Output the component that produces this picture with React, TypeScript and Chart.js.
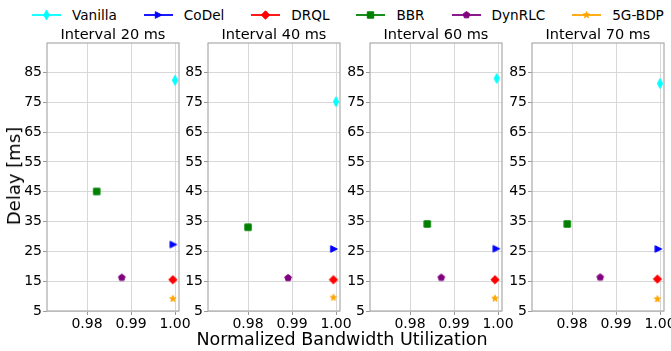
import React, { useEffect, useRef } from 'react';
import { Chart, registerables } from 'chart.js';

Chart.register(...registerables);

// ---------------- data ----------------
const intervalTitles = ['Interval 20 ms', 'Interval 40 ms', 'Interval 60 ms', 'Interval 70 ms'];
const methodNames = ['Vanilla', 'CoDel', 'DRQL', 'BBR', 'DynRLC', '5G-BDP'];
const methodColors = ['#00ffff', '#0000ff', '#ff0000', '#008000', '#800080', '#ffa500'];
const methodMarkers = ['thinDiamond', 'triRight', 'diamond', 'square', 'pentagon', 'star'];

const vanillaUtil = [1.0, 1.0, 0.9997, 1.0];
const vanillaDelay = [82.4, 75.2, 83.0, 81.3];
const codelUtil = [0.9996, 0.9995, 0.9996, 0.9996];
const codelDelay = [27.3, 25.8, 25.9, 25.8];
const drqlUtil = [0.9995, 0.9994, 0.9993, 0.9994];
const drqlDelay = [15.5, 15.5, 15.5, 15.7];
const bbrUtil = [0.9822, 0.98, 0.9839, 0.9789];
const bbrDelay = [45.1, 33.1, 34.2, 34.2];
const dynrlcUtil = [0.9879, 0.9891, 0.9871, 0.9864];
const dynrlcDelay = [16.2, 16.1, 16.2, 16.3];
const bdpUtil = [0.9995, 0.9994, 0.9993, 0.9994];
const bdpDelay = [9.1, 9.5, 9.2, 9.0];

const utilSeries = [vanillaUtil, codelUtil, drqlUtil, bbrUtil, dynrlcUtil, bdpUtil];
const delaySeries = [vanillaDelay, codelDelay, drqlDelay, bbrDelay, dynrlcDelay, bdpDelay];

const xTicks = [0.98, 0.99, 1.0];
const yTicks = [5, 15, 25, 35, 45, 55, 65, 75, 85];
const xMin = 0.9709;
const xMax = 1.0009;
const yMin = 5;
const yMax = 94.9;

// ---------------- layout ----------------
const FONT = "'DejaVu Sans', sans-serif";
const panelLefts = [47, 208, 370, 532];
const AXIS_W = 45;
const PLOT_W = 132;
const PAD_R = 18;
const CANVAS_W = AXIS_W + PLOT_W + PAD_R;
const CANVAS_H = 351;
const PLOT_TOP = 43;
const X_AXIS_H = 25;
const PAD_B = 15;

Chart.defaults.font.family = FONT;

function traceMarker(ctx: CanvasRenderingContext2D, shape: string, cx: number, cy: number) {
  ctx.beginPath();
  if (shape === 'thinDiamond') {
    ctx.moveTo(cx, cy - 5);
    ctx.lineTo(cx + 2.6, cy);
    ctx.lineTo(cx, cy + 5);
    ctx.lineTo(cx - 2.6, cy);
  } else if (shape === 'triRight') {
    ctx.moveTo(cx + 3.4, cy);
    ctx.lineTo(cx - 3.2, cy - 3.3);
    ctx.lineTo(cx - 3.2, cy + 3.3);
  } else if (shape === 'diamond') {
    const r = 4.2;
    ctx.moveTo(cx, cy - r);
    ctx.lineTo(cx + r, cy);
    ctx.lineTo(cx, cy + r);
    ctx.lineTo(cx - r, cy);
  } else if (shape === 'square') {
    ctx.rect(cx - 3.2, cy - 3.2, 6.4, 6.4);
  } else if (shape === 'pentagon') {
    const r = 3.5;
    for (let k = 0; k < 5; k++) {
      const a = -Math.PI / 2 + (k * 2 * Math.PI) / 5;
      const px = cx + r * Math.cos(a);
      const py = cy + r * Math.sin(a);
      if (k === 0) ctx.moveTo(px, py);
      else ctx.lineTo(px, py);
    }
  } else if (shape === 'star') {
    const ro = 3.4;
    const ri = 1.4;
    for (let k = 0; k < 10; k++) {
      const a = -Math.PI / 2 + (k * Math.PI) / 5;
      const r = k % 2 === 0 ? ro : ri;
      const px = cx + r * Math.cos(a);
      const py = cy + r * Math.sin(a);
      if (k === 0) ctx.moveTo(px, py);
      else ctx.lineTo(px, py);
    }
  }
  ctx.closePath();
}

function drawMarker(ctx: CanvasRenderingContext2D, shape: string, color: string, cx: number, cy: number) {
  traceMarker(ctx, shape, cx, cy);
  ctx.fillStyle = color;
  ctx.strokeStyle = color;
  ctx.lineWidth = 1;
  ctx.lineJoin = 'miter';
  ctx.fill();
  ctx.stroke();
}

function makeMarkerImage(shape: string, color: string): HTMLCanvasElement {
  const c = document.createElement('canvas');
  c.width = 16;
  c.height = 16;
  const ctx = c.getContext('2d')!;
  drawMarker(ctx, shape, color, 8, 8);
  return c;
}

const framePlugin = {
  id: 'frame',
  afterDraw(chart: any) {
    const { ctx, chartArea } = chart;
    ctx.save();
    ctx.strokeStyle = '#ababab';
    ctx.lineWidth = 1.2;
    ctx.strokeRect(chartArea.left, chartArea.top, chartArea.right - chartArea.left, chartArea.bottom - chartArea.top);
    ctx.restore();
  },
};

function Panel({ index }: { index: number }) {
  const ref = useRef<HTMLCanvasElement>(null);
  useEffect(() => {
    const canvas = ref.current!;
    const datasets = methodNames.map((name, m) => ({
      label: name,
      data: [{ x: utilSeries[m][index], y: delaySeries[m][index] }],
      pointStyle: makeMarkerImage(methodMarkers[m], methodColors[m]) as any,
      pointRadius: 4,
      backgroundColor: methodColors[m],
      borderColor: methodColors[m],
      clip: false as any,
      order: methodNames.length - m,
    }));
    const gridColor = '#d8d8d8';
    const chart = new Chart(canvas, {
      type: 'scatter',
      data: { datasets },
      plugins: [framePlugin],
      options: {
        animation: false,
        responsive: false,
        maintainAspectRatio: false,
        devicePixelRatio: 1,
        events: [],
        layout: {
          padding: { top: PLOT_TOP, right: PAD_R, bottom: PAD_B, left: 0 },
          autoPadding: false,
        } as any,
        plugins: {
          legend: { display: false },
          tooltip: { enabled: false },
          title: { display: false },
        },
        scales: {
          x: {
            type: 'linear',
            min: xMin,
            max: xMax,
            afterBuildTicks: (s: any) => {
              s.ticks = xTicks.map((v) => ({ value: v }));
            },
            afterFit: (s: any) => {
              s.height = X_AXIS_H;
            },
            ticks: {
              callback: (v: any) => Number(v).toFixed(2),
              font: { size: 14, family: FONT },
              color: '#000',
              padding: 1,
              maxRotation: 0,
              autoSkip: false,
            },
            grid: { color: gridColor, lineWidth: 1, tickLength: 4, tickColor: '#9a9a9a', drawTicks: true },
            border: { display: false },
          },
          y: {
            type: 'linear',
            min: yMin,
            max: yMax,
            afterBuildTicks: (s: any) => {
              s.ticks = yTicks.map((v) => ({ value: v }));
            },
            afterFit: (s: any) => {
              s.width = AXIS_W;
            },
            ticks: {
              callback: (v: any) => String(Math.round(Number(v))),
              font: { size: 14, family: FONT },
              color: '#000',
              padding: 1,
              autoSkip: false,
            },
            grid: { color: gridColor, lineWidth: 1, tickLength: 4, tickColor: '#9a9a9a', drawTicks: true },
            border: { display: false },
          },
        },
      } as any,
    });
    return () => chart.destroy();
  }, [index]);
  return (
    <canvas
      ref={ref}
      width={CANVAS_W}
      height={CANVAS_H}
      style={{ position: 'absolute', left: panelLefts[index] - AXIS_W, top: 0, width: CANVAS_W, height: CANVAS_H }}
    />
  );
}

function LegendIcon({ m }: { m: number }) {
  const ref = useRef<HTMLCanvasElement>(null);
  useEffect(() => {
    const c = ref.current!;
    const ctx = c.getContext('2d')!;
    ctx.clearRect(0, 0, c.width, c.height);
    ctx.strokeStyle = methodColors[m];
    ctx.lineWidth = 1.8;
    ctx.beginPath();
    ctx.moveTo(0, 7);
    ctx.lineTo(29, 7);
    ctx.stroke();
    drawMarker(ctx, methodMarkers[m], methodColors[m], 14.5, 7);
  }, [m]);
  return <canvas ref={ref} width={29} height={14} style={{ width: 29, height: 14, display: 'block' }} />;
}

export default function App() {
  return (
    <div
      style={{
        position: 'fixed',
        left: 0,
        top: 0,
        width: 671,
        height: 351,
        background: '#fff',
        fontFamily: FONT,
        color: '#000',
        overflow: 'hidden',
      }}
    >
      {/* legend */}
      <div
        style={{
          position: 'absolute',
          left: 32,
          top: 6,
          height: 18,
          display: 'flex',
          alignItems: 'center',
          gap: 27,
          fontSize: 13.6,
          whiteSpace: 'nowrap',
        }}
      >
        {methodNames.map((name, m) => (
          <div key={name} style={{ display: 'flex', alignItems: 'center' }}>
            <LegendIcon m={m} />
            <span style={{ marginLeft: 11, lineHeight: '18px' }}>{name}</span>
          </div>
        ))}
      </div>
      {/* panels */}
      {intervalTitles.map((t, i) => (
        <Panel key={t} index={i} />
      ))}
      {/* titles */}
      {intervalTitles.map((t, i) => (
        <div
          key={'t' + t}
          style={{
            position: 'absolute',
            left: panelLefts[i],
            width: PLOT_W,
            top: 25,
            lineHeight: '18px',
            fontSize: 14.5,
            textAlign: 'center',
            whiteSpace: 'nowrap',
          }}
        >
          {t}
        </div>
      ))}
      {/* axis labels */}
      <div
        style={{
          position: 'absolute',
          left: 342,
          top: 339,
          transform: 'translate(-50%, -50%)',
          fontSize: 17.5,
          whiteSpace: 'nowrap',
          lineHeight: '22px',
        }}
      >
        Normalized Bandwidth Utilization
      </div>
      <div
        style={{
          position: 'absolute',
          left: 14,
          top: 176,
          transform: 'translate(-50%, -50%) rotate(-90deg)',
          fontSize: 18,
          whiteSpace: 'nowrap',
          lineHeight: '22px',
        }}
      >
        Delay [ms]
      </div>
    </div>
  );
}
